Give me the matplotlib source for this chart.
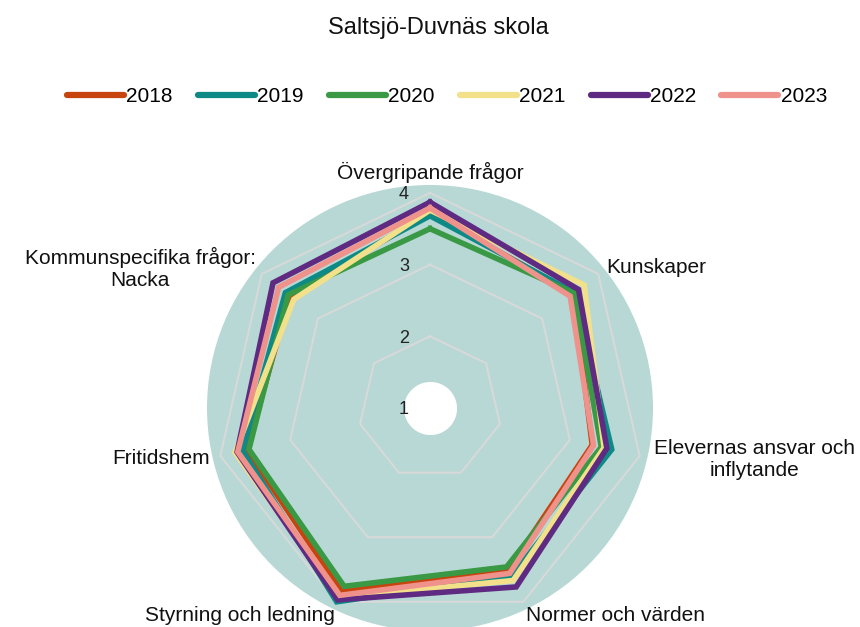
import numpy as np
import matplotlib
matplotlib.use("Agg")
import matplotlib.pyplot as plt
from matplotlib.lines import Line2D
from matplotlib.transforms import ScaledTranslation

plt.rcParams['font.family'] = ['Liberation Sans', 'DejaVu Sans']

title = "Saltsjö-Duvnäs skola"
categories = ["Övergripande frågor", "Kunskaper", "Elevernas ansvar och\ninflytande",
              "Normer och värden", "Styrning och ledning", "Fritidshem",
              "Kommunspecifika frågor:\nNacka"]
years = ["2018", "2019", "2020", "2021", "2022", "2023"]
v2018 = [3.72, 3.56, 3.32, 3.51, 3.84, 3.62, 3.50]
v2019 = [3.68, 3.58, 3.60, 3.61, 4.00, 3.68, 3.58]
v2020 = [3.50, 3.57, 3.45, 3.46, 3.76, 3.59, 3.53]
v2021 = [3.76, 3.75, 3.49, 3.67, 3.93, 3.79, 3.43]
v2022 = [3.87, 3.65, 3.53, 3.77, 3.97, 3.76, 3.80]
v2023 = [3.79, 3.50, 3.34, 3.56, 3.90, 3.75, 3.70]
series = [v2018, v2019, v2020, v2021, v2022, v2023]
colors = ["#c8440e", "#0e8a86", "#3a9944", "#f3e08a", "#5e2a82", "#ef928c"]
radial_ticks = [1, 2, 3, 4]

fig = plt.figure(figsize=(8.6, 6.27), dpi=100)
R_px = 223
cx, cy = 430, 408
ax = fig.add_axes([(cx - R_px) / 860, (627 - cy - R_px) / 627, 2 * R_px / 860, 2 * R_px / 627],
                  projection='polar')
ax.set_theta_zero_location('N')
ax.set_theta_direction(-1)
ax.set_ylim(1, 4.11)
ax.set_facecolor('#b8d8d5')
ax.spines['polar'].set_visible(False)
ax.grid(False)
ax.set_xticks([])
ax.set_yticks([])

n = len(categories)
theta = np.arange(n) * 2 * np.pi / n
theta_c = np.append(theta, theta[0])

# polygon gridlines
for t in radial_ticks[1:]:
    ax.plot(theta_c, [t] * (n + 1), color='#d9d9d9', lw=1.4, zorder=1)

for vals, c in zip(series, colors):
    ax.plot(theta_c, vals + vals[:1], color=c, lw=4.0, zorder=3,
            solid_joinstyle='miter')

# hole
tt = np.linspace(0, 2 * np.pi, 300)
ax.fill_between(tt, 1, 1.37, color='white', zorder=4, lw=0)

# radial labels
off = ScaledTranslation(-26 / 100, -2 / 100, fig.dpi_scale_trans)
for t in radial_ticks:
    ax.text(0, t, str(t), transform=ax.transData + off, ha='center', va='center',
            fontsize=13, color='#222222', zorder=6)

# category labels
fs = 15
lab_specs = [
    (4.29, 'center', 'center'),
    (4.15, 'left', 'center'),
    (4.20, 'left', 'center'),
    (4.07, 'left', 'top'),
    (4.07, 'right', 'top'),
    (4.15, 'right', 'center'),
    (4.11, 'right', 'center'),
]
for th, lab, (r, ha, va) in zip(theta, categories, lab_specs):
    ax.text(th, r, lab, ha=ha, va=va, fontsize=fs, multialignment='center',
            clip_on=False, color='#111111')

fig.text(438 / 860, 1 - 28 / 627, title, ha='center', va='center', fontsize=17, color='#111111')

handles = [Line2D([0], [0], color=c, lw=4.5, solid_capstyle='round') for c in colors]
fig.legend(handles, years, loc='center', bbox_to_anchor=(447 / 860, 1 - 97 / 627), ncol=6,
           frameon=False, fontsize=15, handlelength=2.75, handletextpad=0.1,
           columnspacing=1.2)

fig.savefig('out.png', dpi=100)
